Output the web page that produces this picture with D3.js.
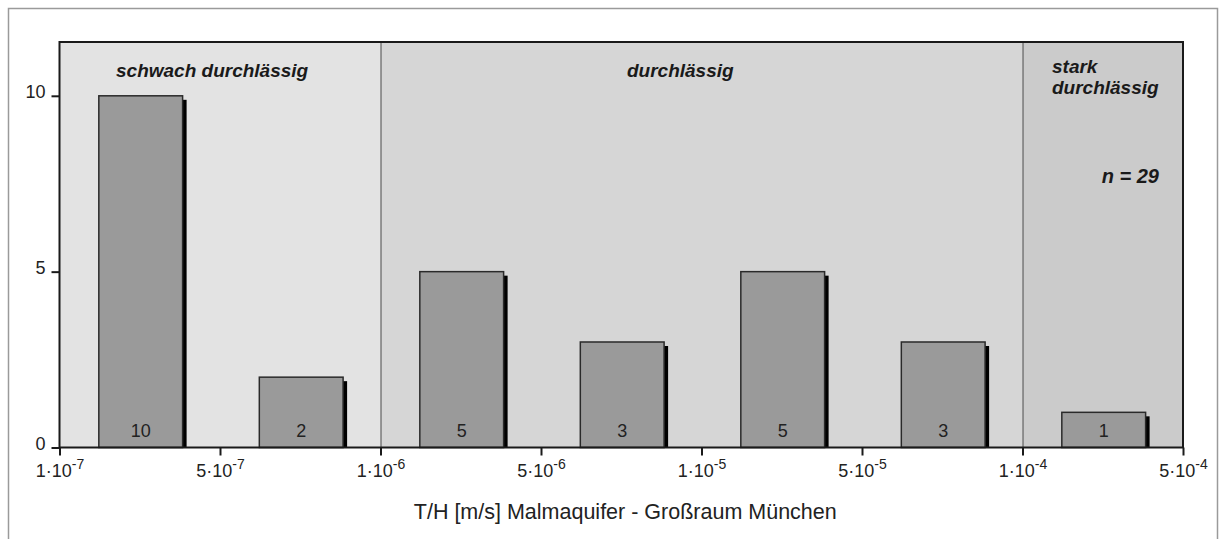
<!DOCTYPE html>
<html>
<head>
<meta charset="utf-8">
<script src="https://cdn.jsdelivr.net/npm/d3@7"></script>
<style>
  html, body { margin: 0; padding: 0; background: #fff; }
  svg { display: block; font-family: "Liberation Sans", Arial, sans-serif; }
</style>
</head>
<body>
<svg id="chart" width="1221" height="539"></svg>
<script>
// Class boundaries of T/H [m/s] (mantissa, exponent)
const tickMantissa = ["1", "5", "1", "5", "1", "5", "1", "5"];
const tickExponent = ["-7", "-7", "-6", "-6", "-5", "-5", "-4", "-4"];
const tickIds = tickMantissa.map((m, i) => m + "e" + tickExponent[i]);

// Number of values per class (between consecutive boundaries)
const counts = [10, 2, 5, 3, 5, 3, 1];

// Permeability zones, given as boundary indices
const zoneNames = ["schwach durchlässig", "durchlässig", "stark durchlässig"];
const zoneStart = [0, 2, 6];
const zoneEnd = [2, 6, 7];
const zoneFill = ["#e3e3e3", "#d6d6d6", "#cbcbcb"];

const yTicks = [0, 5, 10];
const sampleLabel = "n = 29";
const axisTitle = "T/H [m/s] Malmaquifer - Großraum München";

const svg = d3.select("#chart");
const plot = { left: 59.5, right: 1183, top: 42, bottom: 447.5 };

const x = d3.scalePoint().domain(tickIds).range([plot.left, plot.right]);
const y = d3.scaleLinear().domain([0, 11.53]).range([plot.bottom, plot.top]);
const step = x.step();

// outer frame (open at the bottom)
svg.append("path")
  .attr("d", `M8.5,539 V8.5 H1217.5 V539`)
  .attr("fill", "none").attr("stroke", "#9a9a9a").attr("stroke-width", 1.5);

// zone backgrounds
svg.append("g").selectAll("rect").data(zoneNames).join("rect")
  .attr("x", (d, i) => x(tickIds[zoneStart[i]]))
  .attr("y", plot.top)
  .attr("width", (d, i) => x(tickIds[zoneEnd[i]]) - x(tickIds[zoneStart[i]]))
  .attr("height", plot.bottom - plot.top)
  .attr("fill", (d, i) => zoneFill[i]);

// zone separators
svg.append("g").selectAll("line").data(zoneStart.slice(1)).join("line")
  .attr("x1", d => x(tickIds[d]) + 0.5).attr("x2", d => x(tickIds[d]) + 0.5)
  .attr("y1", plot.top).attr("y2", plot.bottom)
  .attr("stroke", "#4a4a4a").attr("stroke-width", 1);

// bars with drop shadow
const barOffset = 0.245, barWidth = 0.522;
const bars = svg.append("g");
bars.selectAll("rect.shadow").data(counts).join("rect")
  .attr("class", "shadow")
  .attr("x", (d, i) => x(tickIds[i]) + step * barOffset + 4)
  .attr("y", d => y(d) + 4)
  .attr("width", step * barWidth)
  .attr("height", d => plot.bottom - y(d) - 4)
  .attr("fill", "#000");
bars.selectAll("rect.bar").data(counts).join("rect")
  .attr("class", "bar")
  .attr("x", (d, i) => x(tickIds[i]) + step * barOffset)
  .attr("y", d => y(d))
  .attr("width", step * barWidth)
  .attr("height", d => plot.bottom - y(d))
  .attr("fill", "#9a9a9a").attr("stroke", "#2a2a2a").attr("stroke-width", 1.5);
bars.selectAll("text").data(counts).join("text")
  .attr("x", (d, i) => x(tickIds[i]) + step * (barOffset + barWidth / 2))
  .attr("y", plot.bottom - 10.5)
  .attr("text-anchor", "middle")
  .attr("font-size", 18).attr("fill", "#222")
  .text(d => d);

// plot border
svg.append("rect")
  .attr("x", plot.left).attr("y", plot.top)
  .attr("width", plot.right - plot.left).attr("height", plot.bottom - plot.top)
  .attr("fill", "none").attr("stroke", "#1a1a1a").attr("stroke-width", 2);

// y axis
const yAxis = svg.append("g")
  .attr("transform", `translate(${plot.left},0)`)
  .call(d3.axisLeft(y).tickValues(yTicks).tickSize(8).tickPadding(6));
yAxis.select(".domain").remove();
yAxis.selectAll(".tick line").attr("stroke", "#1a1a1a").attr("stroke-width", 2);
yAxis.selectAll(".tick text").attr("font-size", 18).attr("fill", "#222")
  .attr("font-family", "Liberation Sans, Arial, sans-serif")
  .attr("dy", "0.1em");

// x axis
const xAxis = svg.append("g")
  .attr("transform", `translate(0,${plot.bottom})`)
  .call(d3.axisBottom(x).tickSize(8).tickFormat(() => ""));
xAxis.select(".domain").remove();
xAxis.selectAll(".tick line").attr("stroke", "#1a1a1a").attr("stroke-width", 2);
xAxis.selectAll(".tick").each(function (d, i) {
  const t = d3.select(this).append("text")
    .attr("y", 29.5).attr("text-anchor", "middle")
    .attr("font-size", 18).attr("fill", "#222")
    .attr("font-family", "Liberation Sans, Arial, sans-serif");
  t.append("tspan").text(tickMantissa[i] + "\u00b710");
  t.append("tspan").attr("dy", -8).attr("font-size", 14).text(tickExponent[i]);
});

// zone labels
const lbl = svg.append("g")
  .attr("font-size", 19).attr("font-weight", "bold").attr("font-style", "italic").attr("fill", "#1a1a1a");
lbl.append("text").attr("x", 116).attr("y", 77).text(zoneNames[0]);
lbl.append("text").attr("x", 627).attr("y", 77).text(zoneNames[1]);
const stark = lbl.append("text").attr("x", 1052).attr("y", 73);
stark.append("tspan").attr("x", 1052).text(zoneNames[2].split(" ")[0]);
stark.append("tspan").attr("x", 1052).attr("dy", 21).text(zoneNames[2].split(" ")[1]);
lbl.append("text").attr("x", 1159).attr("y", 183).attr("text-anchor", "end")
  .attr("font-size", 20).text(sampleLabel);

// axis title
svg.append("text")
  .attr("x", (plot.left + plot.right) / 2 + 4).attr("y", 519)
  .attr("text-anchor", "middle").attr("font-size", 21.5).attr("fill", "#222")
  .text(axisTitle);
</script>
</body>
</html>
